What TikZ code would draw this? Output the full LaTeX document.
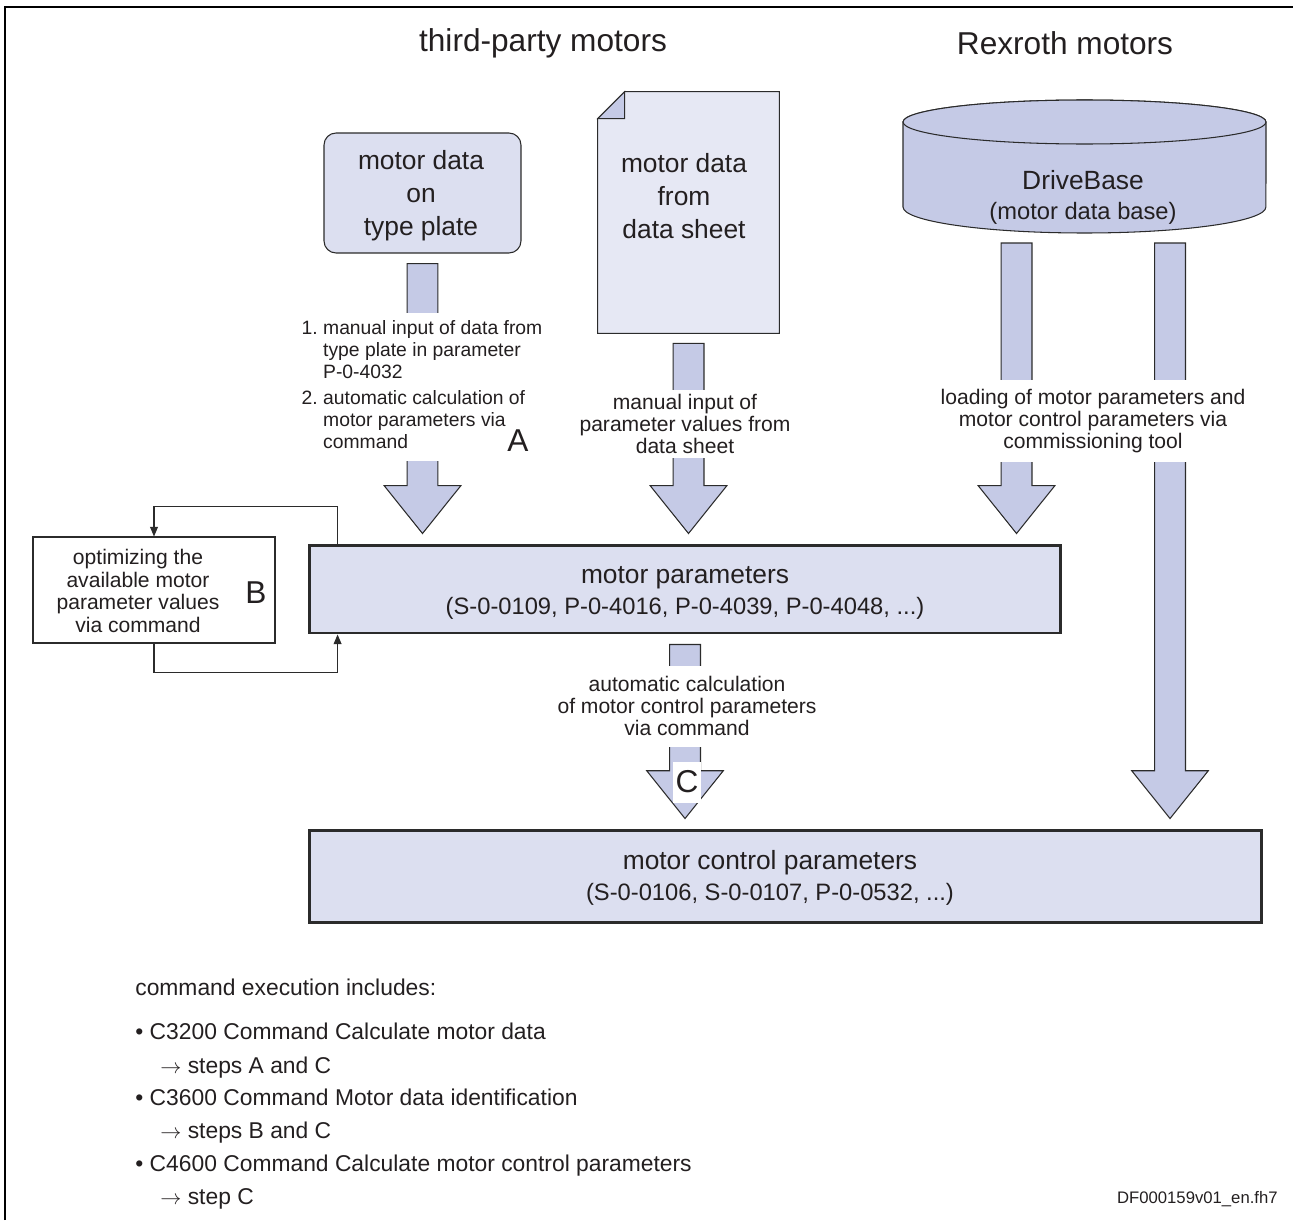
\documentclass[tikz,border=0pt]{standalone}
\usepackage{fontspec}
\setmainfont{Liberation Sans}
\usetikzlibrary{arrows.meta,positioning,calc}
\definecolor{DBLight}{HTML}{DCDFF0}
\definecolor{DBArrow}{HTML}{C5CAE6}
\definecolor{DBSheet}{HTML}{E6E8F4}
\definecolor{DBText}{HTML}{231F20}
\definecolor{DBLine}{HTML}{2B2B2B}

% broad arrow with outline, from a source anchor down to a target anchor
\newcommand{\fatarrow}[2]{%
  \draw[fatarr] let \p1=(#1), \p2=(#2) in
    (\x1-8.8pt,\y1-5.7pt) -- (\x1-8.8pt,\y2+32.9pt) -- (\x1-21.8pt,\y2+32.9pt)
    -- (\x1,\y2+5.7pt) -- (\x1+21.8pt,\y2+32.9pt) -- (\x1+8.8pt,\y2+32.9pt)
    -- (\x1+8.8pt,\y1-5.7pt) -- cycle;}

\begin{document}
\begin{tikzpicture}[x=0.02cm,y=-0.02cm,
    font=\fontsize{12}{12.5}\selectfont,text=DBText,
    grouptitle/.style={font=\fontsize{18}{20}\selectfont},
    plate/.style={draw=DBLine,fill=DBLight,rounded corners=0.24cm,line width=0.6pt,
                  minimum width=3.94cm,minimum height=2.4cm},
    boxtxt/.style={align=center,font=\fontsize{15}{18.7}\selectfont},
    parbox/.style={draw=DBLine,fill=DBLight,line width=1.7pt},
    gaptxt/.style={fill=white,align=center,inner sep=1pt},
    fatarr/.style={draw=DBLine,fill=DBArrow,line width=0.6pt},
    loopline/.style={draw=DBLine,line width=0.6pt,-{Triangle[length=5.5pt,width=4.5pt]}},
    letter/.style={font=\fontsize{18}{18}\selectfont,inner sep=0pt},
    listtxt/.style={font=\fontsize{13}{13}\selectfont,anchor=base west,inner sep=0pt}
  ]
  \useasboundingbox (0,0) rectangle (1293,1220);
  \draw[line width=1.7pt] (5,1220) -- (5,7) -- (1293,7);

  % headings
  \node[grouptitle] (third) at (543,43) {third-party motors};
  \node[grouptitle] (rexroth) at (1065,43) {Rexroth motors};

  % sources
  \node[plate] (plate) at (422.5,193) {};
  \node[boxtxt] (platetxt) at (421,196) {motor data\\on\\type plate};

  \node[minimum width=3.62cm,minimum height=4.82cm,inner sep=0pt] (sheet) at (688.5,212.5) {};
  \draw[fatarr,fill=DBSheet] ([xshift=0.54cm]sheet.north west) -- (sheet.north east)
    -- (sheet.south east) -- (sheet.south west) -- ([yshift=-0.54cm]sheet.north west) -- cycle;
  \draw[fatarr] ([xshift=0.54cm]sheet.north west) -- ([xshift=0.54cm,yshift=-0.54cm]sheet.north west)
    -- ([yshift=-0.54cm]sheet.north west) -- cycle;
  \node[boxtxt] (sheettxt) at (684,196) {motor data\\from\\data sheet};

  \draw[fatarr] (903,122) -- (903,207) arc[start angle=180,end angle=360,x radius=3.63cm,y radius=0.52cm]
    -- (1266,122) arc[start angle=0,end angle=180,x radius=3.63cm,y radius=0.44cm] -- cycle;
  \draw[fatarr] (1084.5,122) ellipse[x radius=3.63cm,y radius=0.44cm];
  \node[align=center,font=\fontsize{15}{17}\selectfont] (dbase) at (1083,197)
    {DriveBase\\{\fontsize{13.5}{17}\selectfont (motor data base)}};
  \coordinate (dbL) at (1016.5,233);
  \coordinate (dbR) at (1170,233);

  % parameter blocks
  \node[parbox,minimum width=15.04cm,minimum height=1.76cm] (mp) at (685,589) {};
  \node[align=center,font=\fontsize{15}{18}\selectfont] (mptxt) at (685,593)
    {motor parameters\\{\fontsize{13.5}{18}\selectfont (S-0-0109, P-0-4016, P-0-4039, P-0-4048, ...)}};
  \node[parbox,minimum width=19.06cm,minimum height=1.84cm] (mcp) at (785.5,876) {};
  \node[align=center,font=\fontsize{15}{18}\selectfont] (mcptxt) at (770,878)
    {motor control parameters\\{\fontsize{13.5}{18}\selectfont (S-0-0106, S-0-0107, P-0-0532, ...)}};

  % broad arrows
  \fatarrow{plate.south}{mp.north}
  \fatarrow{sheet.south}{mp.north}
  \fatarrow{dbL}{mp.north}
  \fatarrow{dbR}{mcp.north}
  \fatarrow{mp.south}{mcp.north}

  % texts over the arrows
  \node[gaptxt,minimum height=2.96cm,font=\fontsize{11}{12.5}\selectfont] (txtA) at (422,387) {%
    \begin{tabular}{@{}l@{\ }l@{}}
      1. & manual input of data from\\
         & type plate in parameter\\
         & P-0-4032\\[2pt]
      2. & automatic calculation of\\
         & motor parameters via\\
         & command
    \end{tabular}};
  \node[letter] (labA) at (518,441) {A};
  \node[gaptxt,minimum height=1.36cm] (txtS) at (685,424)
    {manual input of\\parameter values from\\data sheet};
  \node[gaptxt,minimum height=1.64cm] (txtD) at (1093,421)
    {loading of motor parameters and\\motor control parameters via\\commissioning tool};
  \node[gaptxt,minimum height=1.62cm] (txtC) at (687,706)
    {automatic calculation\\of motor control parameters\\via command};
  \node[letter,fill=white,minimum width=0.56cm,minimum height=0.82cm] (labC) at (687,782) {C};

  % optimisation loop
  \node[draw=DBLine,line width=0.6pt,minimum width=4.84cm,minimum height=2.12cm] (optbox) at (154,590) {};
  \node[align=center,font=\fontsize{12}{13}\selectfont] (opttxt) at (138,591)
    {optimizing the\\available motor\\parameter values\\via command};
  \node[letter] (labB) at (256,593) {B};
  \draw[loopline] ([xshift=0.6cm]mp.north west) -- ++(0,-37) -| (optbox.north);
  \draw[loopline] (optbox.south) -- ++(0,29) -| ([xshift=0.6cm]mp.south west);

  % command list
  \node[listtxt] (exec) at (135,995) {command execution includes:};
  \node[listtxt] (cmd1) at (135,1039) {\textbullet\ C3200 Command Calculate motor data};
  \node[listtxt] (step1) at (160,1073) {$\rightarrow$ steps A and C};
  \node[listtxt] (cmd2) at (135,1105) {\textbullet\ C3600 Command Motor data identification};
  \node[listtxt] (step2) at (160,1138) {$\rightarrow$ steps B and C};
  \node[listtxt] (cmd3) at (135,1171) {\textbullet\ C4600 Command Calculate motor control parameters};
  \node[listtxt] (step3) at (160,1204) {$\rightarrow$ step C};
  \node[font=\fontsize{9.5}{10}\selectfont,anchor=base east,inner sep=0pt] (fileid) at (1278,1203)
    {DF000159v01\_en.fh7};
\end{tikzpicture}
\end{document}
